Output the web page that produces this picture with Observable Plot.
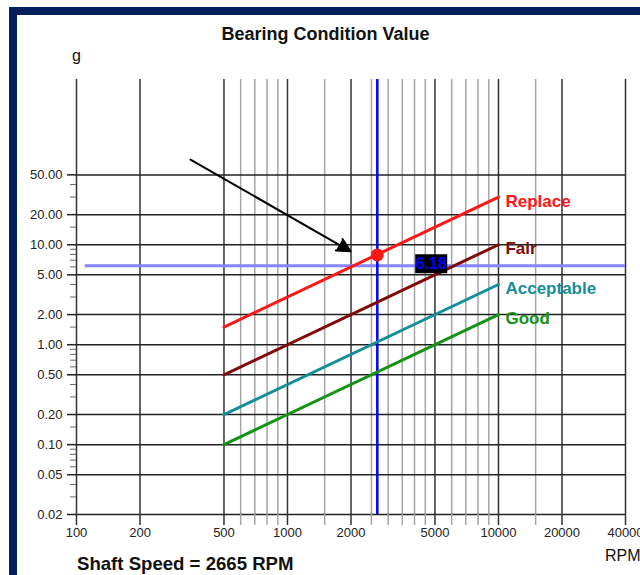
<!DOCTYPE html>
<html>
<head>
<meta charset="utf-8">
<script src="https://cdn.jsdelivr.net/npm/d3@7"></script>
<script src="https://cdn.jsdelivr.net/npm/@observablehq/plot@0.6"></script>
<style>
  html, body { margin: 0; padding: 0; background: #fff; }
  #wrap { position: relative; width: 640px; height: 575px; overflow: hidden; background: #fff;
          font-family: Arial, "Liberation Sans", sans-serif; color: #111; }
  .abs { position: absolute; white-space: nowrap; line-height: 1; }
  #chart { position: absolute; left: 0; top: 65px; }
</style>
</head>
<body>
<div id="wrap">
  <div class="abs" style="left:9px;top:7px;width:631px;height:8px;background:#00205c"></div>
  <div class="abs" style="left:9px;top:7px;width:8px;height:568px;background:#00205c"></div>
  <div class="abs" id="title" style="left:0;width:651px;top:25px;text-align:center;font-size:18px;font-weight:bold;">Bearing Condition Value</div>
  <div class="abs" style="left:72px;top:48px;font-size:16px;">g</div>
  <div id="chart"></div>
  <div class="abs" style="left:77px;top:555px;font-size:18.6px;font-weight:bold;">Shaft Speed = 2665 RPM</div>
  <div class="abs" style="left:605px;top:548px;font-size:16px;">RPM</div>
</div>
<script>
// ---- data ----
const xMajorTicks = [100, 200, 500, 1000, 2000, 5000, 10000, 20000, 40000];
const xMinorTicks = [600, 700, 800, 900, 1500, 2500, 3000, 3500, 4000, 4500, 6000, 7000, 8000, 9000, 15000];
const yMajorTicks = [0.02, 0.05, 0.1, 0.2, 0.5, 1, 2, 5, 10, 20, 50];
const yMinorTicks = [0.03, 0.04, 0.06, 0.07, 0.08, 0.09, 0.15, 0.3, 0.4, 0.6, 0.7, 0.8, 0.9, 1.5, 3, 4, 6, 7, 8, 9, 15, 30, 40];
const xTickLabels = ["100", "200", "500", "1000", "2000", "5000", "10000", "20000", "40000"];
const yTickLabels = ["0.02", "0.05", "0.10", "0.20", "0.50", "1.00", "2.00", "5.00", "10.00", "20.00", "50.00"];

const seriesNames = ["Replace", "Fair", "Acceptable", "Good"];
const seriesColors = ["#ff1616", "#800a0a", "#148f98", "#159315"];
const rpmEnds = [500, 10000];
const replaceG = [1.5, 30];
const fairG = [0.5, 10];
const acceptableG = [0.2, 4];
const goodG = [0.1, 2];

const shaftSpeed = [2665];
const measuredValue = [6.18];
const measuredPointG = [7.9];   // point on the Replace line at shaft speed
const valueLabelRpm = [4800];
const arrowStart = {rpm: 347, g: 71};
const arrowEnd = {rpm: 1990, g: 8.6};

// ---- tables ----
const seriesValues = [replaceG, fairG, acceptableG, goodG];
const rows = [];
seriesNames.forEach((name, k) => {
  rpmEnds.forEach((r, i) => rows.push({series: name, rpm: r, g: seriesValues[k][i]}));
});
const xLabelRows = xMajorTicks.map((v, i) => ({v, label: xTickLabels[i]}));
const yLabelRows = yMajorTicks.map((v, i) => ({v, label: yTickLabels[i]}));
const point = [{rpm: shaftSpeed[0], g: measuredPointG[0]}];
const valueLabel = [{rpm: valueLabelRpm[0], g: measuredValue[0], text: measuredValue[0].toFixed(2)}];
const arrowRows = [{x1: arrowStart.rpm, y1: arrowStart.g, x2: arrowEnd.rpm, y2: arrowEnd.g}];

const boxSymbol = { draw(context) { context.rect(-16, -9.5, 32, 19); } };

const chart = Plot.plot({
  width: 640,
  height: 480,
  marginLeft: 76,
  marginRight: 15,
  marginTop: 14,
  marginBottom: 31,
  style: { fontFamily: "Arial, 'Liberation Sans', sans-serif", fontSize: "13px", color: "#222", background: "transparent", overflow: "visible" },
  x: { type: "log", domain: [100, 40000], label: null },
  y: { type: "log", domain: [0.02, 450], label: null },
  color: { domain: seriesNames, range: seriesColors },
  marks: [
    Plot.gridX(xMinorTicks, { stroke: "#a6a6a6", strokeOpacity: 1, strokeWidth: 1.5 }),
    Plot.gridX(xMajorTicks, { stroke: "#333", strokeOpacity: 1, strokeWidth: 1.5 }),
    Plot.gridY(yMajorTicks, { stroke: "#222", strokeOpacity: 1, strokeWidth: 1.5 }),
    Plot.axisX(xMinorTicks, { tickSize: 11, tickFormat: () => "", stroke: "#a6a6a6", strokeWidth: 1.5, label: null }),
    Plot.axisX(xMajorTicks, { tickSize: 11, tickFormat: () => "", stroke: "#333", strokeWidth: 1.5, label: null }),
    Plot.axisY(yMinorTicks, { tickSize: 6, tickFormat: () => "", stroke: "#666", strokeWidth: 1, label: null }),
    Plot.axisY(yMajorTicks, { tickSize: 9, tickFormat: () => "", stroke: "#222", strokeWidth: 1.5, label: null }),
    Plot.text(xLabelRows, { x: "v", text: "label", frameAnchor: "bottom", dy: 22, fontSize: 13, fill: "#222" }),
    Plot.text(yLabelRows, { y: "v", text: "label", frameAnchor: "left", textAnchor: "end", dx: -14, fontSize: 13, fill: "#222" }),
    Plot.ruleY(measuredValue, { x1: 110, x2: 40000, stroke: "#8585ff", strokeWidth: 3 }),
    Plot.ruleX(shaftSpeed, { stroke: "#0000ff", strokeWidth: 2.5 }),
    Plot.line(rows, { x: "rpm", y: "g", z: "series", stroke: "series", strokeWidth: 3 }),
    Plot.text(rows, Plot.selectLast({ x: "rpm", y: "g", z: "series", text: "series", fill: "series",
      textAnchor: "start", dx: 7, dy: 4, fontSize: 17, fontWeight: "bold" })),
    Plot.dot(point, { x: "rpm", y: "g", r: 6.5, fill: "#ff1616" }),
    Plot.arrow(arrowRows, { x1: "x1", y1: "y1", x2: "x2", y2: "y2",
      stroke: "black", fill: "black", strokeWidth: 2, headLength: 11, headAngle: 54 }),
    Plot.dot(valueLabel, { x: "rpm", y: "g", symbol: boxSymbol, r: 5, fill: "black", dy: -2 }),
    Plot.text(valueLabel, { x: "rpm", y: "g", text: "text", fill: "#0000ff", fontSize: 16, fontWeight: "bold", dy: -2 })
  ]
});
document.getElementById("chart").appendChild(chart);
</script>
</body>
</html>
